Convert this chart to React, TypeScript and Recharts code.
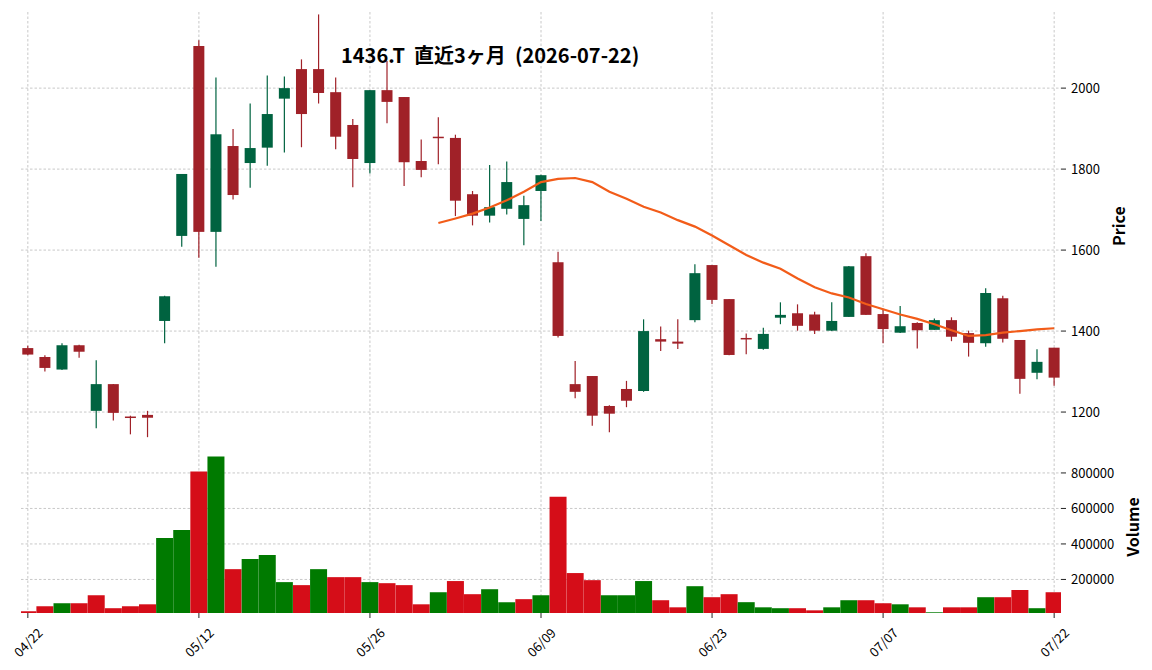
import { ComposedChart, Bar, Line, XAxis, YAxis, CartesianGrid, Cell } from "recharts";

const dates = [
  "04/22", "04/23", "04/24", "04/27", "04/28", "04/30", "05/01", "05/07", "05/08", "05/11",
  "05/12", "05/13", "05/14", "05/15", "05/18", "05/19", "05/20", "05/21", "05/22", "05/25",
  "05/26", "05/27", "05/28", "05/29", "06/01", "06/02", "06/03", "06/04", "06/05", "06/08",
  "06/09", "06/10", "06/11", "06/12", "06/15", "06/16", "06/17", "06/18", "06/19", "06/22",
  "06/23", "06/24", "06/25", "06/26", "06/29", "06/30", "07/01", "07/02", "07/03", "07/06",
  "07/07", "07/08", "07/09", "07/10", "07/13", "07/14", "07/15", "07/16", "07/17", "07/21",
  "07/22",
];

const opens = [
  1358, 1336, 1305, 1365, 1203, 1269, 1189, 1193, 1425, 1635,
  2104, 1645, 1857, 1815, 1853, 1974, 2047, 2047, 1990, 1909,
  1815, 1995, 1978, 1820, 1880, 1877, 1738, 1685, 1702, 1677,
  1746, 1570, 1269, 1289, 1215, 1257, 1252, 1380, 1374, 1427,
  1563, 1479, 1383, 1356, 1433, 1444, 1441, 1401, 1435, 1585,
  1442, 1396, 1420, 1403, 1427, 1395, 1370, 1481, 1378, 1297,
  1359,
];

const highs = [
  1364, 1340, 1370, 1366, 1328, 1269, 1191, 1203, 1487, 1788,
  2118, 2026, 1899, 1962, 2031, 2029, 2071, 2182, 2026, 1924,
  1995, 2067, 1978, 1873, 1928, 1885, 1746, 1810, 1819, 1734,
  1786, 1596, 1326, 1289, 1217, 1277, 1429, 1411, 1429, 1565,
  1563, 1479, 1394, 1408, 1471, 1466, 1448, 1471, 1561, 1592,
  1455, 1462, 1422, 1431, 1434, 1401, 1506, 1487, 1378, 1355,
  1359,
];

const lows = [
  1340, 1300, 1304, 1334, 1160, 1179, 1145, 1138, 1370, 1608,
  1581, 1559, 1725, 1754, 1808, 1841, 1854, 1962, 1849, 1755,
  1789, 1913, 1758, 1780, 1812, 1684, 1661, 1668, 1688, 1612,
  1672, 1384, 1234, 1166, 1150, 1212, 1250, 1351, 1356, 1422,
  1467, 1340, 1343, 1354, 1417, 1401, 1393, 1400, 1435, 1440,
  1370, 1395, 1357, 1403, 1375, 1337, 1361, 1372, 1245, 1281,
  1265,
];

const closes = [
  1342, 1309, 1365, 1349, 1269, 1198, 1187, 1186, 1486, 1788,
  1645, 1886, 1736, 1852, 1936, 2000, 1936, 1988, 1880, 1825,
  1995, 1966, 1817, 1798, 1878, 1722, 1685, 1706, 1768, 1711,
  1785, 1388, 1250, 1191, 1196, 1228, 1400, 1374, 1369, 1543,
  1477, 1341, 1381, 1393, 1440, 1413, 1401, 1425, 1560, 1440,
  1405, 1412, 1402, 1427, 1386, 1371, 1494, 1381, 1282, 1324,
  1285,
];

const volumes = [
  21000, 49000, 66000, 66000, 111000, 38000, 49000, 60000, 434000, 479000,
  808000, 892000, 258000, 315000, 338000, 185000, 168000, 258000, 213000, 213000,
  185000, 179000, 168000, 60000, 128000, 191000, 117000, 145000, 72000, 89000,
  111000, 666000, 236000, 196000, 111000, 111000, 191000, 83000, 43000, 162000,
  100000, 117000, 72000, 43000, 38000, 38000, 26000, 43000, 83000, 83000,
  66000, 60000, 43000, 15000, 43000, 43000, 100000, 100000, 140000, 38000,
  128000,
];

// 25-day moving average as drawn (starts at the 25th session)
const mav25 = [
  null, null, null, null, null, null, null, null, null, null,
  null, null, null, null, null, null, null, null, null, null,
  null, null, null, null, 1667, 1678, 1690, 1705, 1723, 1744,
  1768, 1776, 1778, 1768, 1744, 1727, 1707, 1693, 1674, 1658,
  1636, 1612, 1588, 1569, 1554, 1530, 1508, 1493, 1483, 1467,
  1454, 1441, 1430, 1417, 1402, 1388, 1390, 1396, 1400, 1404,
  1407,
];

const xTicks = [0, 10, 20, 30, 40, 50, 60];
const priceTicks = [1200, 1400, 1600, 1800, 2000];
const volumeTicks = [200000, 400000, 600000, 800000];

const UP = "#006340";
const DOWN = "#a02128";
const VUP = "#007a00";
const VDOWN = "#d50d18";
const MA_COLOR = "#f25c19";
const GRID = "#c8c8c8";
const FONT = '"Noto Sans CJK JP", "Noto Sans", sans-serif';

const data = dates.map((d, i) => ({
  idx: i,
  date: d,
  open: opens[i],
  high: highs[i],
  low: lows[i],
  close: closes[i],
  range: [lows[i], highs[i]],
  volume: volumes[i],
  ma: mav25[i],
  volUp: i === 0 ? closes[0] >= opens[0] : closes[i] >= closes[i - 1],
}));

function Candle(props: any) {
  const { x, y, width, height, payload } = props;
  if (x == null || y == null) return null;
  const { open, close, high, low } = payload;
  const top = Math.min(y, y + height);
  const h = Math.abs(height);
  const span = high - low || 1;
  const py = (v: number) => top + ((high - v) / span) * h;
  const cx = x + width / 2;
  const color = close >= open ? UP : DOWN;
  const bodyTop = py(Math.max(open, close));
  const bodyBottom = py(Math.min(open, close));
  const bw = 11;
  return (
    <g>
      <line x1={cx} x2={cx} y1={top} y2={top + h} stroke={color} strokeWidth={1.2} />
      <rect
        x={cx - bw / 2}
        y={bodyTop}
        width={bw}
        height={Math.max(bodyBottom - bodyTop, 1.5)}
        fill={color}
      />
    </g>
  );
}

function DateTick(props: any) {
  const { x, y, payload } = props;
  const cy = y + 22;
  return (
    <text
      x={x}
      y={cy}
      textAnchor="middle"
      dominantBaseline="central"
      transform={`rotate(-45 ${x} ${cy})`}
      fontSize={13}
      fontFamily={FONT}
      fill="#000"
    >
      {dates[payload.value]}
    </text>
  );
}

// the price panel shares the dates but shows no labels
function NoTick() {
  return <g />;
}

function sideLabel(text: string, cx: number, cy: number) {
  return () => (
    <text
      x={cx}
      y={cy}
      textAnchor="middle"
      dominantBaseline="central"
      transform={`rotate(-90 ${cx} ${cy})`}
      fontSize={16}
      fontWeight="bold"
      fontFamily={FONT}
      fill="#000"
    >
      {text}
    </text>
  );
}

const tickStyle = { fontSize: 13, fontFamily: FONT, fill: "#000" };

export default function App() {
  return (
    <div
      style={{
        position: "absolute",
        left: 0,
        top: 0,
        width: 1152,
        height: 670,
        background: "#fff",
        overflow: "hidden",
      }}
    >
      <div style={{ position: "absolute", left: 0, top: 0 }}>
        <ComposedChart
          width={1152}
          height={440}
          data={data}
          margin={{ top: 12, right: 0, bottom: 0, left: 21 }}
        >
          <CartesianGrid
            stroke={GRID}
            strokeDasharray="2.5 2"
            horizontalValues={priceTicks}
            verticalValues={xTicks}
            syncWithTicks
          />
          <XAxis
            dataKey="idx"
            type="number"
            domain={[-0.4, 60.4]}
            allowDataOverflow
            ticks={xTicks}
            interval={0}
            height={0}
            tick={<NoTick />}
            axisLine={false}
            tickLine={false}
          />
          <YAxis
            orientation="right"
            type="number"
            domain={[1131, 2188]}
            allowDataOverflow
            ticks={priceTicks}
            width={91}
            axisLine={false}
            tickLine={{ stroke: "#222" }}
            tickSize={5}
            tickMargin={5}
            tick={tickStyle}
            label={{ content: sideLabel("Price", 1118, 226) }}
          />
          <Bar dataKey="range" barSize={11} shape={<Candle />} isAnimationActive={false} />
          <Line
            type="linear"
            dataKey="ma"
            stroke={MA_COLOR}
            strokeWidth={2.2}
            dot={false}
            activeDot={false}
            connectNulls={false}
            isAnimationActive={false}
          />
        </ComposedChart>
      </div>

      <div style={{ position: "absolute", left: 0, top: 441 }}>
        <ComposedChart
          width={1152}
          height={229}
          data={data}
          margin={{ top: 0, right: 0, bottom: 0, left: 21 }}
        >
          <CartesianGrid
            stroke={GRID}
            strokeDasharray="2.5 2"
            horizontalValues={volumeTicks}
            verticalValues={xTicks}
            syncWithTicks
          />
          <XAxis
            dataKey="idx"
            type="number"
            domain={[-0.4, 60.4]}
            allowDataOverflow
            ticks={xTicks}
            interval={0}
            height={57}
            axisLine={false}
            tickLine={{ stroke: "#222" }}
            tickSize={5}
            tick={<DateTick />}
          />
          <YAxis
            orientation="right"
            type="number"
            domain={[11000, 980000]}
            allowDataOverflow
            ticks={volumeTicks}
            width={91}
            axisLine={false}
            tickLine={{ stroke: "#222" }}
            tickSize={5}
            tickMargin={5}
            tick={tickStyle}
            label={{ content: sideLabel("Volume", 1132, 86) }}
          />
          <Bar dataKey="volume" barSize={17} isAnimationActive={false}>
            {data.map((d, i) => (
              <Cell key={i} fill={d.volUp ? VUP : VDOWN} />
            ))}
          </Bar>
        </ComposedChart>
      </div>

      <div
        style={{
          position: "absolute",
          left: 341,
          top: 42,
          fontFamily: FONT,
          fontSize: 20,
          fontWeight: "bold",
          lineHeight: "26px",
          whiteSpace: "pre",
          color: "#000",
        }}
      >
        1436.T  直近3ヶ月  (2026-07-22)
      </div>
    </div>
  );
}
